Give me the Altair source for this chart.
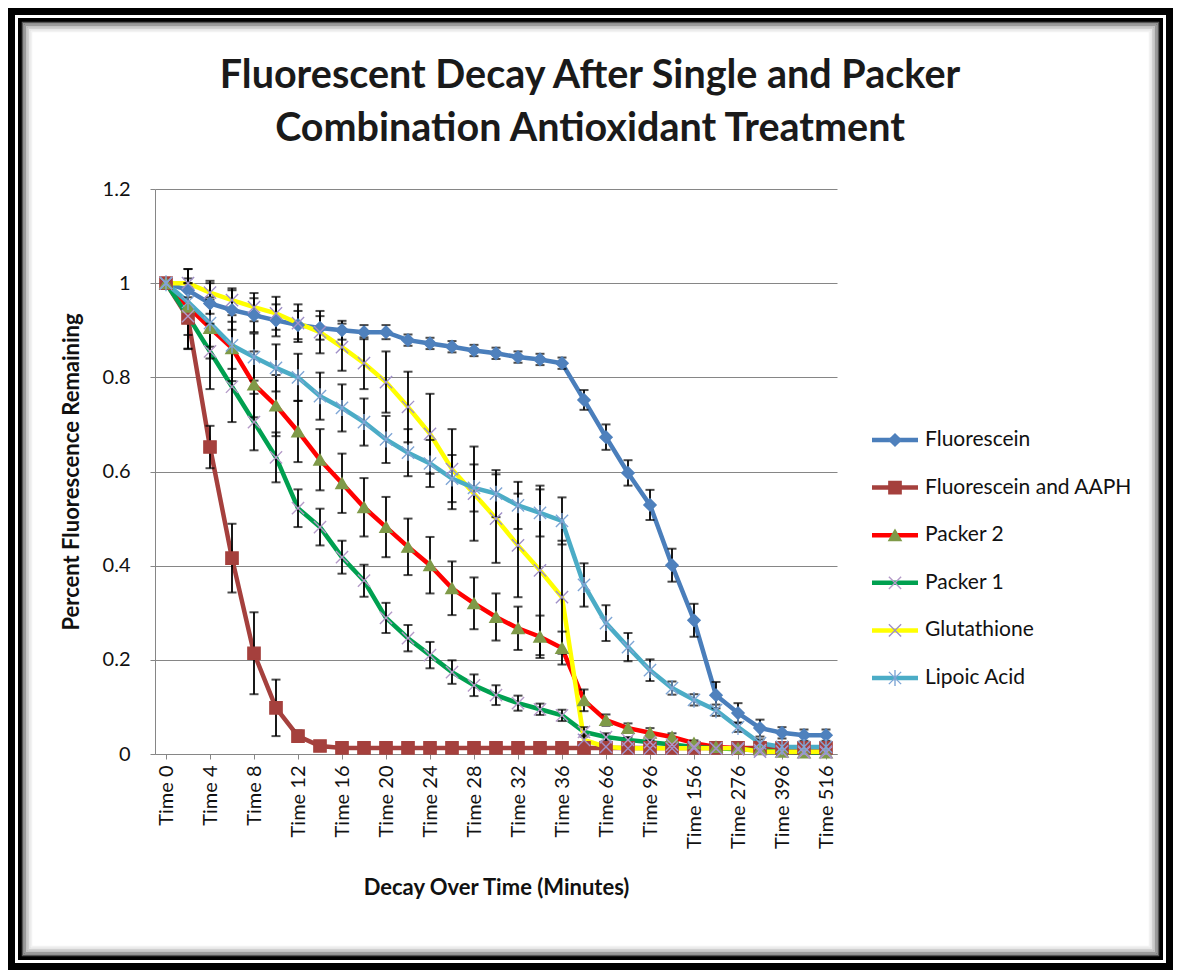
import altair as alt
import pandas as pd

# ---------------- data ----------------
categories = ["Time 0", "Time 2", "Time 4", "Time 6", "Time 8", "Time 10", "Time 12", "Time 14",
              "Time 16", "Time 18", "Time 20", "Time 22", "Time 24", "Time 26", "Time 28", "Time 30",
              "Time 32", "Time 34", "Time 36", "Time 51", "Time 66", "Time 81", "Time 96", "Time 126",
              "Time 156", "Time 216", "Time 276", "Time 336", "Time 396", "Time 456", "Time 516"]

series_names = ["Fluorescein", "Fluorescein and AAPH", "Packer 2", "Packer 1", "Glutathione", "Lipoic Acid"]

title_lines = ["Fluorescent Decay After Single and Packer", "Combination Antioxidant Treatment"]

fluorescein = [1.0, 0.985, 0.957, 0.943, 0.932, 0.921, 0.911, 0.905, 0.900, 0.896, 0.896, 0.879, 0.872,
               0.865, 0.857, 0.851, 0.843, 0.838, 0.830, 0.752, 0.673, 0.597, 0.529, 0.401, 0.284, 0.125,
               0.087, 0.055, 0.045, 0.040, 0.040]
fluorescein_err = [0.0, 0.045, 0.043, 0.042, 0.036, 0.034, 0.03, 0.025, 0.02, 0.015, 0.015, 0.012, 0.012,
                   0.012, 0.012, 0.012, 0.012, 0.012, 0.012, 0.021, 0.027, 0.027, 0.032, 0.035, 0.035,
                   0.028, 0.021, 0.018, 0.012, 0.012, 0.012]

aaph = [1.0, 0.926, 0.652, 0.416, 0.214, 0.098, 0.038, 0.017, 0.013, 0.013, 0.013, 0.013, 0.013, 0.013,
        0.013, 0.013, 0.013, 0.013, 0.013, 0.013, 0.013, 0.013, 0.013, 0.013, 0.013, 0.013, 0.013, 0.013,
        0.013, 0.013, 0.013]
aaph_err = [0.0, 0.065, 0.045, 0.073, 0.087, 0.06, 0.012, 0.006, 0.005, 0.005, 0.005, 0.005, 0.005, 0.005,
            0.005, 0.005, 0.005, 0.005, 0.005, 0.005, 0.005, 0.005, 0.005, 0.005, 0.005, 0.005, 0.005,
            0.005, 0.005, 0.005, 0.005]

packer2 = [1.0, 0.95, 0.905, 0.862, 0.785, 0.74, 0.685, 0.625, 0.575, 0.524, 0.482, 0.44, 0.401, 0.352,
           0.32, 0.291, 0.267, 0.249, 0.225, 0.114, 0.072, 0.055, 0.045, 0.036, 0.023, 0.015, 0.012, 0.01,
           0.005, 0.003, 0.003]
packer2_err = [0.0, 0.06, 0.065, 0.07, 0.07, 0.065, 0.065, 0.065, 0.063, 0.062, 0.064, 0.06, 0.06, 0.057,
               0.055, 0.05, 0.046, 0.045, 0.035, 0.023, 0.012, 0.01, 0.01, 0.008, 0.006, 0.005, 0.005,
               0.005, 0.005, 0.004, 0.004]

packer1 = [1.0, 0.93, 0.855, 0.78, 0.705, 0.63, 0.522, 0.482, 0.418, 0.368, 0.289, 0.246, 0.21, 0.174,
           0.146, 0.125, 0.108, 0.095, 0.082, 0.047, 0.036, 0.03, 0.025, 0.02, 0.015, 0.012, 0.01, 0.008,
           0.005, 0.003, 0.003]
packer1_err = [0.0, 0.07, 0.08, 0.075, 0.06, 0.053, 0.04, 0.039, 0.035, 0.034, 0.032, 0.028, 0.028, 0.025,
               0.023, 0.021, 0.016, 0.012, 0.012, 0.01, 0.008, 0.006, 0.005, 0.005, 0.004, 0.004, 0.004,
               0.003, 0.003, 0.003, 0.003]

glutathione = [1.0, 1.0, 0.98, 0.964, 0.949, 0.936, 0.915, 0.896, 0.864, 0.83, 0.79, 0.737, 0.68, 0.605,
               0.553, 0.50, 0.443, 0.39, 0.333, 0.03, 0.015, 0.012, 0.012, 0.012, 0.012, 0.012, 0.012,
               0.005, 0.005, 0.005, 0.005]
glutathione_err = [0.0, 0.03, 0.025, 0.025, 0.03, 0.035, 0.04, 0.045, 0.05, 0.055, 0.065, 0.075, 0.085,
                   0.085, 0.1, 0.094, 0.11, 0.18, 0.12, 0.01, 0.005, 0.005, 0.005, 0.005, 0.005, 0.005,
                   0.005, 0.005, 0.005, 0.005, 0.005]

lipoic = [1.0, 0.96, 0.915, 0.868, 0.843, 0.82, 0.80, 0.76, 0.735, 0.705, 0.668, 0.64, 0.617, 0.585, 0.565,
          0.553, 0.528, 0.512, 0.495, 0.359, 0.278, 0.227, 0.178, 0.14, 0.115, 0.093, 0.057, 0.023, 0.015,
          0.015, 0.015]
lipoic_err = [0.0, 0.04, 0.05, 0.05, 0.05, 0.05, 0.05, 0.05, 0.05, 0.05, 0.05, 0.05, 0.05, 0.05, 0.05,
              0.05, 0.05, 0.05, 0.05, 0.046, 0.038, 0.03, 0.023, 0.014, 0.012, 0.012, 0.01, 0.008, 0.005,
              0.005, 0.005]

values = [fluorescein, aaph, packer2, packer1, glutathione, lipoic]
errors = [fluorescein_err, aaph_err, packer2_err, packer1_err, glutathione_err, lipoic_err]

# ---------------- styles ----------------
line_colors = ["#4A7EBB", "#A5403D", "#FF0000", "#00A050", "#FFFF00", "#4BACC6"]
fill_colors = ["#4F81BD", "#A5403D", "#7F9A48", "transparent", "transparent", "transparent"]
stroke_colors = ["#4F81BD", "#A5403D", "#7F9A48", "#B49AC8", "#A090C8", "#7FA6D6"]
x_path = "M-1,-1L1,1M1,-1L-1,1"
star_path = "M-1,-1L1,1M1,-1L-1,1M0,-1.3L0,1.3"
shapes = ["diamond", "square", "triangle-up", x_path, x_path, star_path]
FONT = "Lato"

rows = []
for s, vals, errs in zip(series_names, values, errors):
    for i, (c, v, e) in enumerate(zip(categories, vals, errs)):
        rows.append({"series": s, "cat": c, "idx": i, "value": v, "lo": v - e, "hi": v + e})
df = pd.DataFrame(rows)

W, H = 682, 565
PAD_L, PAD_T = 147, 181
CANVAS_W, CANVAS_H = 1165, 962

x_enc = alt.X("cat:N", sort=categories,
              scale=alt.Scale(type="point", domain=categories, padding=0.5),
              axis=alt.Axis(values=categories[::2], labelAngle=270, labelFont=FONT, labelFontSize=20,
                            labelColor="#111", labelPadding=6, tickSize=5, tickColor="#868686",
                            domainColor="#868686", grid=False,
                            title="Decay Over Time (Minutes)", titleFont=FONT, titleFontSize=22,
                            titleFontWeight="bold", titleColor="#111", titleY=133,
                            titleBaseline="middle"))
y_scale = alt.Scale(domain=[0, 1.2], nice=False)
y_enc = alt.Y("value:Q", scale=y_scale,
              axis=alt.Axis(values=[0, 0.2, 0.4, 0.6, 0.8, 1.0, 1.2], format=".1~f", labelFont=FONT,
                            labelFontSize=20, labelColor="#111", labelPadding=20, tickSize=5,
                            tickColor="#868686", domainColor="#868686", gridColor="#868686",
                            gridWidth=1, title="Percent Fluorescence Remaining", titleFont=FONT,
                            titleFontSize=22, titleFontWeight="bold", titleColor="#111",
                            titleX=-84, titleBaseline="middle"))

color_enc = alt.Color("series:N", scale=alt.Scale(domain=series_names, range=line_colors), legend=None)
shape_enc = alt.Shape("series:N", scale=alt.Scale(domain=series_names, range=shapes), legend=None)
fill_enc = alt.Fill("series:N", scale=alt.Scale(domain=series_names, range=fill_colors), legend=None)
stroke_enc = alt.Stroke("series:N", scale=alt.Scale(domain=series_names, range=stroke_colors), legend=None)

base = alt.Chart(df)

lines = base.mark_line(strokeWidth=4.5).encode(x=x_enc, y=y_enc, color=color_enc,
                                               order=alt.Order("idx:Q"))
err_rules = base.mark_rule(color="black", strokeWidth=1.8).encode(
    x=alt.X("cat:N", sort=categories), y=alt.Y("lo:Q", scale=y_scale), y2="hi:Q")
err_lo = base.mark_tick(color="black", thickness=2, size=9).encode(
    x=alt.X("cat:N", sort=categories), y=alt.Y("lo:Q", scale=y_scale))
err_hi = base.mark_tick(color="black", thickness=2, size=9).encode(
    x=alt.X("cat:N", sort=categories), y=alt.Y("hi:Q", scale=y_scale))
points = base.mark_point(size=150, strokeWidth=1.4, opacity=1).encode(
    x=alt.X("cat:N", sort=categories), y=alt.Y("value:Q", scale=y_scale),
    shape=shape_enc, fill=fill_enc, stroke=stroke_enc)

# ---------------- decorative picture frame ----------------
one = pd.DataFrame({"k": [0]})


def frame(inset, width, color):
    return alt.Chart(one).mark_rect(filled=False, stroke=color, strokeWidth=width).encode(
        x=alt.value(-PAD_L + inset), x2=alt.value(CANVAS_W - PAD_L - inset),
        y=alt.value(-PAD_T + inset), y2=alt.value(CANVAS_H - PAD_T - inset))


frames = [frame(3.5, 7, "black"), frame(12, 4, "black"), frame(14.5, 1.5, "#555555"),
          frame(16, 1.5, "#7a7a7a"), frame(17.5, 1.5, "#9a9a9a"), frame(19, 1.5, "#b8b8b8"),
          frame(20.5, 1.5, "#d0d0d0"), frame(22, 1.5, "#e4e4e4"), frame(23.5, 1.5, "#f2f2f2")]

# ---------------- title (as text marks) ----------------
title_marks = []
for line, ypos in zip(title_lines, [-101, -48]):
    title_marks.append(alt.Chart(one).mark_text(
        text=line, font=FONT, fontSize=39.5, fontWeight="bold", color="#1a1a1a",
        align="center", baseline="alphabetic").encode(x=alt.value(435), y=alt.value(ypos)))

data_layer = alt.layer(*frames, *title_marks, lines, err_rules, err_lo, err_hi, points)

# ---------------- legend ----------------
leg_df = pd.DataFrame({"series": series_names})
leg_y = alt.Y("series:N", scale=alt.Scale(type="point", domain=series_names, range=[251, 489], padding=0),
              axis=None)
leg_base = alt.Chart(leg_df)
leg_lines = leg_base.mark_rule(strokeWidth=4.5).encode(
    x=alt.value(717), x2=alt.value(763), y=leg_y, color=color_enc)
leg_pts = leg_base.mark_point(size=150, strokeWidth=1.4, opacity=1).encode(
    x=alt.value(740), y=leg_y, shape=shape_enc, fill=fill_enc, stroke=stroke_enc)
leg_text = leg_base.mark_text(align="left", baseline="middle", font=FONT, fontSize=21, color="#111").encode(
    x=alt.value(770), y=leg_y, text="series:N")
legend_layer = alt.layer(leg_lines, leg_pts, leg_text)

chart = alt.layer(data_layer, legend_layer).resolve_scale(y="independent").properties(
    width=W, height=H,
    autosize=alt.AutoSizeParams(type="none"),
    padding={"left": PAD_L, "top": PAD_T, "right": CANVAS_W - PAD_L - W, "bottom": CANVAS_H - PAD_T - H},
    background="white",
).configure_view(stroke=None)

chart.save("out.html", embed_options={"renderer": "svg", "actions": False})
